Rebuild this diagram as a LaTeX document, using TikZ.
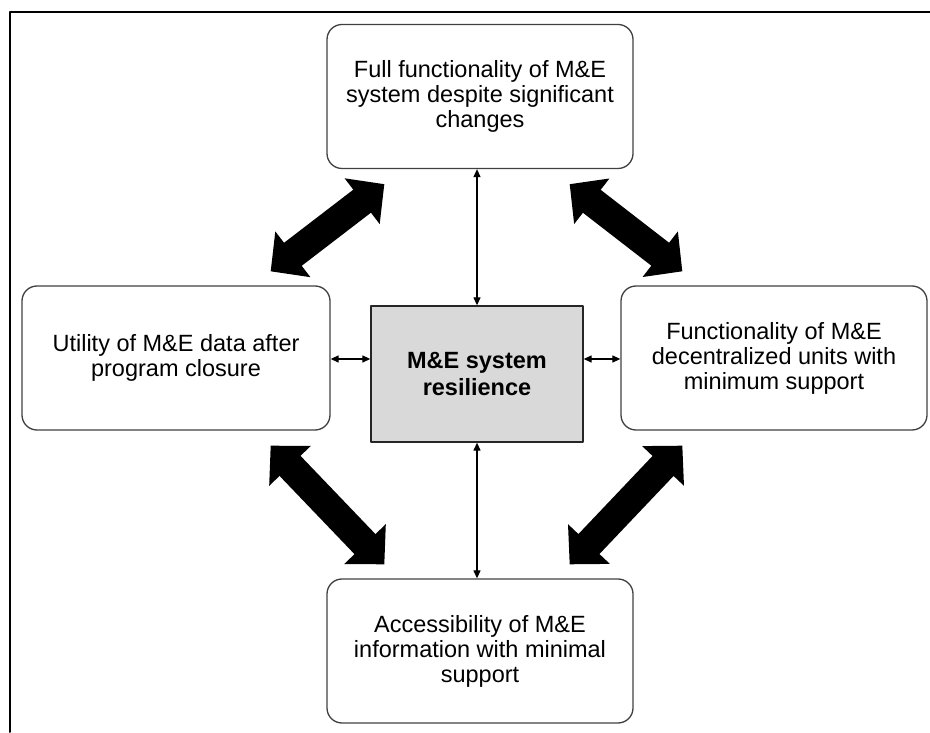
\documentclass[tikz,border=0pt]{standalone}
\usepackage{fontspec}
\setmainfont{Liberation Sans}
\usetikzlibrary{arrows.meta}

\begin{document}
\begin{tikzpicture}[
    x=1pt,
    y=1pt,
    line cap=round,
    line join=round,
    outcome/.style={
        draw=black!75,
        line width=1.3pt,
        rounded corners=15pt,
        align=center,
        font=\fontsize{23.5}{25}\selectfont,
        inner sep=0pt,
        minimum width=306pt,
        minimum height=144pt
    },
    core/.style={
        draw=black!85,
        fill=black!15,
        line width=1.3pt,
        align=center,
        font=\fontsize{23.5}{27}\selectfont\bfseries,
        inner sep=0pt,
        minimum width=212pt,
        minimum height=136pt
    },
    thin link/.style={
        line width=1.2pt,
        {Triangle[length=8pt,width=7pt]}-{Triangle[length=8pt,width=7pt]}
    },
    fat link/.style={
        line width=29pt,
        line cap=butt,
        {Triangle[length=28pt,width=56pt]}-{Triangle[length=28pt,width=56pt]}
    }
]
    \useasboundingbox (0,0) rectangle (930,732);

    % Frame (only the top and left edges show)
    \draw[line width=2pt] (10,0) -- (10,720) -- (930,720);

    % Boxes
    \node[core] (resil) at (477,358) {M\&E system\\resilience};

    \node[outcome] (full) at (480,635.5)
        {Full functionality of M\&E\\system despite significant\\changes};

    \node[outcome] (access) at (480,81)
        {Accessibility of M\&E\\information with minimal\\support};

    \node[outcome, minimum width=308pt] (utility) at (176,374)
        {Utility of M\&E data after\\program closure};

    \node[outcome] (decent) at (774,374)
        {Functionality of M\&E\\decentralized units with\\minimum support};

    % Thin links to the centre
    \draw[thin link] (full.south -| resil.north) -- (resil.north);
    \draw[thin link] (resil.south) -- (resil.south |- access.north);
    \draw[thin link] (utility.east |- 0,373) -- (resil.west |- 0,373);
    \draw[thin link] (resil.east |- 0,373) -- (decent.west |- 0,373);

    % Ends of the fat arrows, next to the box corners
    \coordinate (ul) at ([shift={(-60,14)}]utility.north east);
    \coordinate (lu) at ([shift={(-60,-15)}]utility.south east);
    \coordinate (ur) at ([shift={(62,14)}]decent.north west);
    \coordinate (ru) at ([shift={(62,-15)}]decent.south west);
    \coordinate (fl) at ([shift={(58,-15)}]full.south west);
    \coordinate (fr) at ([shift={(-64,-15)}]full.south east);
    \coordinate (al) at ([shift={(58,14)}]access.north west);
    \coordinate (ar) at ([shift={(-64,14)}]access.north east);

    % Fat arrows between the outer boxes
    \draw[fat link] (ul) -- (fl);
    \draw[fat link] (fr) -- (ur);
    \draw[fat link] (lu) -- (al);
    \draw[fat link] (ar) -- (ru);
\end{tikzpicture}
\end{document}
